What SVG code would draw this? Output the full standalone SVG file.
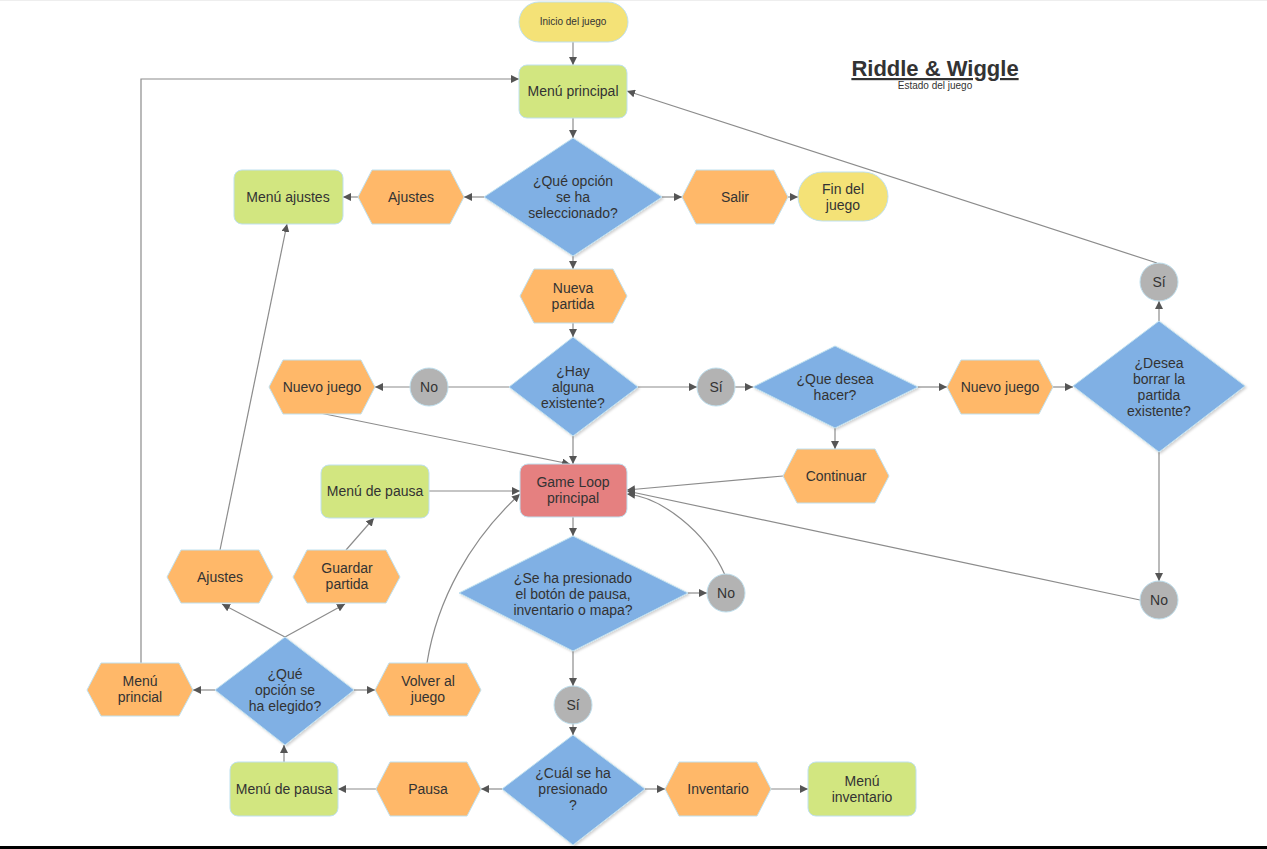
<svg xmlns="http://www.w3.org/2000/svg" width="1267" height="849" viewBox="0 0 1267 849">
<defs>
<marker id="ah" viewBox="0 0 10 10" refX="10" refY="5" markerWidth="8" markerHeight="8" markerUnits="userSpaceOnUse" orient="auto">
<path d="M0,0 L10,5 L0,10 z" fill="#555"/>
</marker>
<filter id="sh" x="-10%" y="-10%" width="125%" height="125%">
<feDropShadow dx="1.5" dy="1.5" stdDeviation="1.2" flood-color="#000" flood-opacity="0.18"/>
</filter>
<style>
text{font-family:"Liberation Sans",Arial,sans-serif;font-size:14px;fill:#333;text-anchor:middle;}
.y{fill:#f4e277;stroke:#bfe0ef;stroke-width:1}
.g{fill:#d2e680;stroke:#bfe0ef;stroke-width:1}
.o{fill:#ffb869;stroke:#bfe0ef;stroke-width:1}
.b{fill:#80b0e4;stroke:#bfe0ef;stroke-width:1;filter:url(#sh)}
.c{fill:#b3b3b3;stroke:#bfe0ef;stroke-width:1}
.r{fill:#e58080;stroke:#bfe0ef;stroke-width:1}
.e{fill:none;stroke:#8c8c8c;stroke-width:1.2;marker-end:url(#ah)}
.n{fill:none;stroke:#8c8c8c;stroke-width:1.2}
</style>
</defs>
<rect x="0" y="0" width="1267" height="849" fill="#fff"/>
<rect x="0" y="0" width="1267" height="1" fill="#eee"/>
<rect x="0" y="846" width="1267" height="3" fill="#000"/>

<g id="title">
<text x="935" y="76" style="font-size:22px;font-weight:bold;text-decoration:underline">Riddle &amp; Wiggle</text>
<text x="935" y="89" style="font-size:10px">Estado del juego</text>
</g>

<g id="connectors">
<path class="e" d="M573,42 V65"/>
<path class="e" d="M573,118 V138"/>
<path class="e" d="M484,197 H464"/>
<path class="e" d="M358,197 H343"/>
<path class="e" d="M662,197 H682"/>
<path class="e" d="M788,197 H798"/>
<path class="e" d="M573,256 V269"/>
<path class="e" d="M573,323 V337"/>
<path class="e" d="M509,387 H410"/>
<path class="e" d="M410,387 H375"/>
<path class="e" d="M638,387 H697"/>
<path class="e" d="M735,387 H753"/>
<path class="e" d="M918,387 H947"/>
<path class="e" d="M1053,387 H1073"/>
<path class="e" d="M1159,321 V301"/>
<path class="e" d="M1159,452 V581"/>
<path class="e" d="M1157,263 L627,91"/>
<path class="e" d="M1140,600 L627,491"/>
<path class="e" d="M835,428 V449"/>
<path class="e" d="M783,476 L627,490"/>
<path class="e" d="M573,436 V464"/>
<path class="e" d="M320,413 L570,464"/>
<path class="e" d="M429,491 H520"/>
<path class="e" d="M573,517 V536"/>
<path class="e" d="M688,593 H707"/>
<path class="e" d="M725,575 C705,530 660,497 627,494"/>
<path class="e" d="M573,651 V686"/>
<path class="e" d="M573,724 V735"/>
<path class="e" d="M502,789 H481"/>
<path class="e" d="M376,789 H338"/>
<path class="e" d="M645,789 H665"/>
<path class="e" d="M771,789 H808"/>
<path class="e" d="M284,762 V745"/>
<path class="e" d="M215,690 H193"/>
<path class="e" d="M354,690 H375"/>
<path class="e" d="M285,637 L222,604"/>
<path class="e" d="M285,637 L345,604"/>
<path class="e" d="M220,550 L287,224"/>
<path class="e" d="M346,550 L374,518"/>
<path class="e" d="M427,663 C437,600 470,540 520,494"/>
<path class="e" d="M141,663 V79 H519"/>
</g>

<g id="inicio"><rect class="y" x="519" y="2" width="109" height="40" rx="20"/><text x="573" y="25" style="font-size:10px">Inicio del juego</text></g>
<g id="menu-principal"><rect class="g" x="519" y="65" width="108" height="53" rx="8"/><text x="573" y="96">Menú principal</text></g>
<g id="d-opcion"><polygon class="b" points="573,138 662,197 573,256 484,197"/><text x="573" y="186">¿Qué opción</text><text x="573" y="202">se ha</text><text x="573" y="218">seleccionado?</text></g>
<g id="ajustes1"><polygon class="o" points="358,197 372,170 450,170 464,197 450,224 372,224"/><text x="411" y="202">Ajustes</text></g>
<g id="menu-ajustes"><rect class="g" x="234" y="170" width="109" height="54" rx="8"/><text x="288" y="202">Menú ajustes</text></g>
<g id="salir"><polygon class="o" points="682,197 696,170 774,170 788,197 774,224 696,224"/><text x="735" y="202">Salir</text></g>
<g id="fin"><rect class="y" x="798" y="172" width="90" height="49" rx="24.5"/><text x="843" y="194">Fin del</text><text x="843" y="210">juego</text></g>
<g id="nueva-partida"><polygon class="o" points="520,296 534,269 613,269 627,296 613,323 534,323"/><text x="573" y="293">Nueva</text><text x="573" y="309">partida</text></g>
<g id="d-hay"><polygon class="b" points="573,337 638,387 573,436 509,387"/><text x="573" y="376">¿Hay</text><text x="573" y="392">alguna</text><text x="573" y="408">existente?</text></g>
<g id="no1"><circle class="c" cx="429" cy="387" r="19"/><text x="429" y="392">No</text></g>
<g id="nuevo-juego1"><polygon class="o" points="269,387 283,360 361,360 375,387 361,414 283,414"/><text x="322" y="392">Nuevo juego</text></g>
<g id="si1"><circle class="c" cx="716" cy="387" r="19"/><text x="716" y="392">Sí</text></g>
<g id="d-que-desea"><polygon class="b" points="835,346 918,387 835,428 753,387"/><text x="835" y="384">¿Que desea</text><text x="835" y="400">hacer?</text></g>
<g id="nuevo-juego2"><polygon class="o" points="947,387 961,360 1039,360 1053,387 1039,414 961,414"/><text x="1000" y="392">Nuevo juego</text></g>
<g id="d-borrar"><polygon class="b" points="1159,321 1245,386 1159,452 1073,386"/><text x="1159" y="368">¿Desea</text><text x="1159" y="384">borrar la</text><text x="1159" y="400">partida</text><text x="1159" y="416">existente?</text></g>
<g id="si2"><circle class="c" cx="1159" cy="282" r="19"/><text x="1159" y="287">Sí</text></g>
<g id="no2"><circle class="c" cx="1159" cy="600" r="19"/><text x="1159" y="605">No</text></g>
<g id="continuar"><polygon class="o" points="783,476 797,449 875,449 889,476 875,503 797,503"/><text x="836" y="481">Continuar</text></g>
<g id="game-loop"><rect class="r" x="520" y="464" width="107" height="53" rx="8"/><text x="573" y="487">Game Loop</text><text x="573" y="503">principal</text></g>
<g id="menu-pausa1"><rect class="g" x="321" y="465" width="108" height="53" rx="8"/><text x="375" y="496">Menú de pausa</text></g>
<g id="d-presionado"><polygon class="b" points="573,536 688,593 573,651 459,593"/><text x="573" y="583">¿Se ha presionado</text><text x="573" y="599">el botón de pausa,</text><text x="573" y="615">inventario o mapa?</text></g>
<g id="no3"><circle class="c" cx="726" cy="593" r="19"/><text x="726" y="598">No</text></g>
<g id="si3"><circle class="c" cx="573" cy="705" r="19"/><text x="573" y="710">Sí</text></g>
<g id="d-cual"><polygon class="b" points="573,735 645,789 573,845 502,789"/><text x="573" y="778">¿Cuál se ha</text><text x="573" y="794">presionado</text><text x="573" y="810">?</text></g>
<g id="pausa"><polygon class="o" points="376,789 390,762 467,762 481,789 467,816 390,816"/><text x="428" y="794">Pausa</text></g>
<g id="menu-pausa2"><rect class="g" x="230" y="762" width="108" height="54" rx="8"/><text x="284" y="794">Menú de pausa</text></g>
<g id="inventario"><polygon class="o" points="665,789 679,762 757,762 771,789 757,816 679,816"/><text x="718" y="794">Inventario</text></g>
<g id="menu-inventario"><rect class="g" x="808" y="762" width="108" height="54" rx="8"/><text x="862" y="786">Menú</text><text x="862" y="802">inventario</text></g>
<g id="d-elegido"><polygon class="b" points="285,637 354,690 285,745 215,690"/><text x="285" y="679">¿Qué</text><text x="285" y="695">opción se</text><text x="285" y="711">ha elegido?</text></g>
<g id="menu-principal2"><polygon class="o" points="87,690 101,663 179,663 193,690 179,716 101,716"/><text x="140" y="686">Menú</text><text x="140" y="702">princial</text></g>
<g id="volver"><polygon class="o" points="375,690 389,663 467,663 481,690 467,716 389,716"/><text x="428" y="686">Volver al</text><text x="428" y="702">juego</text></g>
<g id="ajustes2"><polygon class="o" points="167,577 181,550 259,550 273,577 259,603 181,603"/><text x="220" y="582">Ajustes</text></g>
<g id="guardar"><polygon class="o" points="293,577 307,550 386,550 400,577 386,603 307,603"/><text x="347" y="573">Guardar</text><text x="347" y="589">partida</text></g>
</svg>
